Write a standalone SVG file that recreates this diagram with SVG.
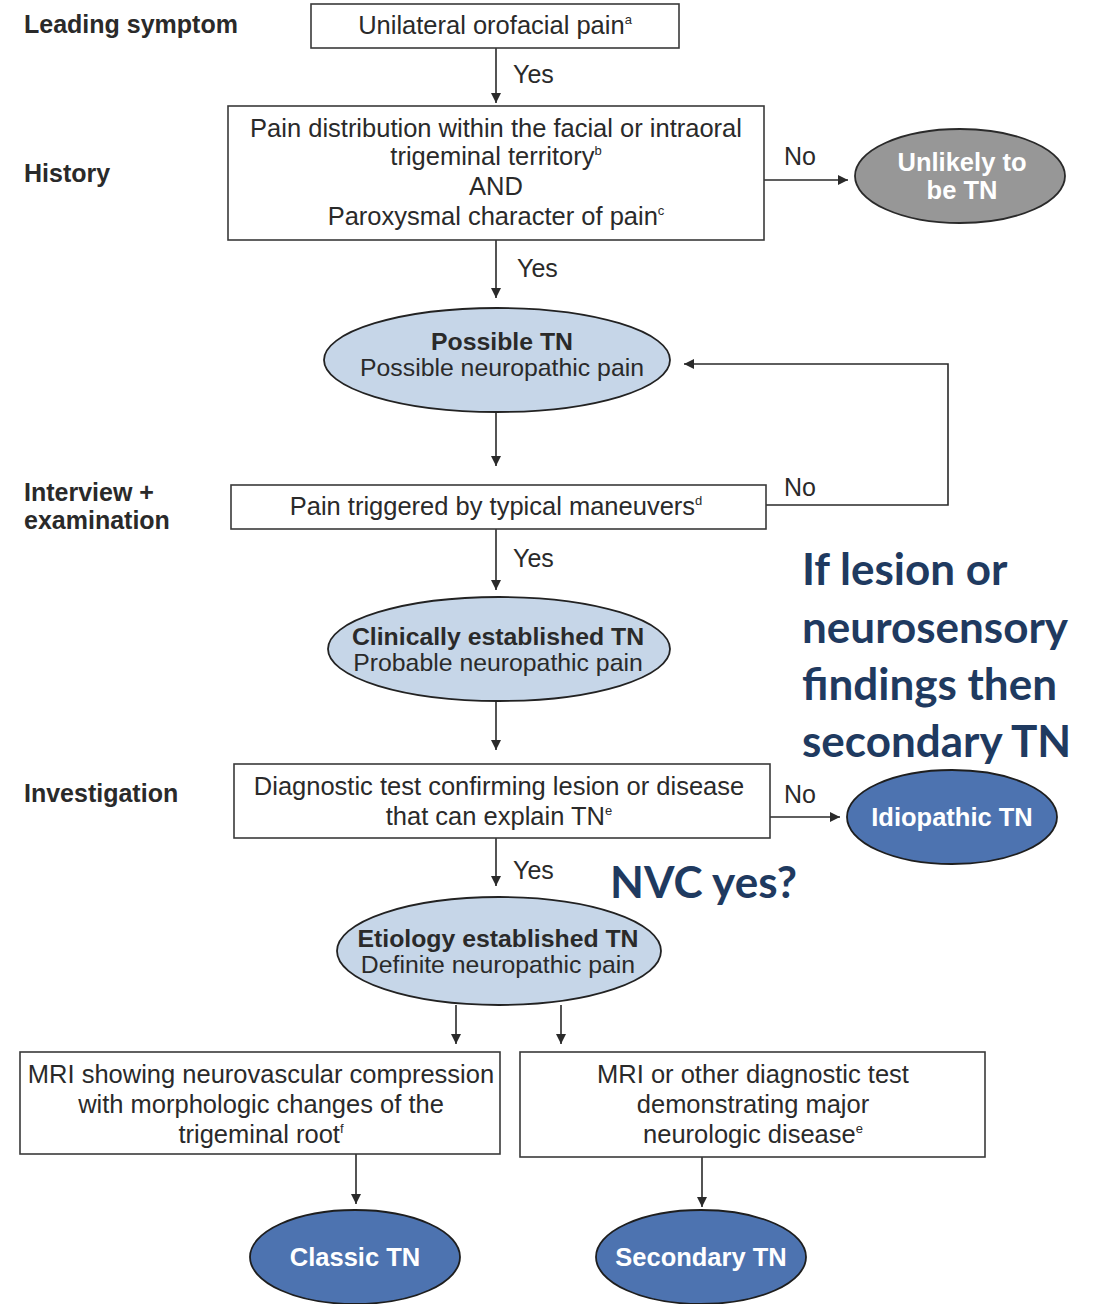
<svg xmlns="http://www.w3.org/2000/svg" width="1097" height="1304" viewBox="0 0 1097 1304">
  <defs>
    <marker id="arrow" viewBox="0 0 10 10" refX="10" refY="5" markerWidth="10" markerHeight="10" markerUnits="userSpaceOnUse" orient="auto">
      <path d="M0,0 L10,5 L0,10 z" fill="#2a2a2a"/>
    </marker>
  </defs>
  <style>
    .box { fill: #ffffff; stroke: #3a3a3a; stroke-width: 1.6; }
    .txt { font-family: "Liberation Sans", Arial, sans-serif; font-size: 25.5px; fill: #2a2a2a; text-anchor: middle; }
    .etxt { font-family: "Liberation Sans", Arial, sans-serif; font-size: 24.8px; fill: #2a2a2a; text-anchor: middle; }
    .bold { font-weight: bold; }
    .sup { font-size: 13px; }
    .side { font-family: "Liberation Sans", Arial, sans-serif; font-size: 25px; font-weight: bold; fill: #2a2a2a; }
    .lbl { font-family: "Liberation Sans", Arial, sans-serif; font-size: 25px; fill: #2a2a2a; }
    .light { fill: #c6d6e8; stroke: #222; stroke-width: 1.8; }
    .dark { fill: #4d73b0; stroke: #1e1e1e; stroke-width: 1.8; }
    .grey { fill: #979797; stroke: #2a2a2a; stroke-width: 1.8; }
    .wtxt { font-family: "Liberation Sans", Arial, sans-serif; font-size: 25.5px; font-weight: bold; fill: #ffffff; text-anchor: middle; }
    .conn { fill: none; stroke: #2a2a2a; stroke-width: 1.6; }
    .note { font-family: Lato, "Open Sans", sans-serif; font-weight: bold; font-size: 44px; fill: #1f3a60; }
  </style>

  <rect width="1097" height="1304" fill="#ffffff"/>

  <!-- stage labels on the left -->
  <g id="stage-labels">
    <text class="side" x="24" y="33">Leading symptom</text>
    <text class="side" x="24" y="182">History</text>
    <text class="side" x="24" y="501">Interview +</text>
    <text class="side" x="24" y="529">examination</text>
    <text class="side" x="24" y="802">Investigation</text>
  </g>

  <!-- connectors -->
  <g id="connectors">
    <line class="conn" x1="496" y1="48" x2="496" y2="103" marker-end="url(#arrow)"/>
    <line class="conn" x1="764" y1="180" x2="848" y2="180" marker-end="url(#arrow)"/>
    <line class="conn" x1="496" y1="240" x2="496" y2="298" marker-end="url(#arrow)"/>
    <line class="conn" x1="496" y1="412" x2="496" y2="466" marker-end="url(#arrow)"/>
    <polyline class="conn" points="766,505 948,505 948,364 684,364" marker-end="url(#arrow)"/>
    <line class="conn" x1="496" y1="529" x2="496" y2="590" marker-end="url(#arrow)"/>
    <line class="conn" x1="496" y1="701" x2="496" y2="750" marker-end="url(#arrow)"/>
    <line class="conn" x1="770" y1="817" x2="840" y2="817" marker-end="url(#arrow)"/>
    <line class="conn" x1="496" y1="838" x2="496" y2="886" marker-end="url(#arrow)"/>
    <line class="conn" x1="456" y1="1005" x2="456" y2="1044" marker-end="url(#arrow)"/>
    <line class="conn" x1="561" y1="1005" x2="561" y2="1044" marker-end="url(#arrow)"/>
    <line class="conn" x1="356" y1="1154" x2="356" y2="1204" marker-end="url(#arrow)"/>
    <line class="conn" x1="702" y1="1157" x2="702" y2="1207" marker-end="url(#arrow)"/>
    <text class="lbl" x="513" y="83">Yes</text>
    <text class="lbl" x="784" y="165">No</text>
    <text class="lbl" x="517" y="277">Yes</text>
    <text class="lbl" x="784" y="496">No</text>
    <text class="lbl" x="513" y="567">Yes</text>
    <text class="lbl" x="784" y="803">No</text>
    <text class="lbl" x="513" y="879">Yes</text>
  </g>

  <g id="n-unilateral">
    <rect class="box" x="311" y="4" width="368" height="44"/>
    <text class="txt" x="495" y="34">Unilateral orofacial pain<tspan class="sup" dy="-10">a</tspan></text>
  </g>

  <g id="n-distribution">
    <rect class="box" x="228" y="106" width="536" height="134"/>
    <text class="txt" x="496" y="137">Pain distribution within the facial or intraoral</text>
    <text class="txt" x="496" y="165">trigeminal territory<tspan class="sup" dy="-10">b</tspan></text>
    <text class="txt" x="496" y="195">AND</text>
    <text class="txt" x="496" y="225">Paroxysmal character of pain<tspan class="sup" dy="-10">c</tspan></text>
  </g>

  <g id="n-unlikely">
    <ellipse class="grey" cx="960" cy="176" rx="105" ry="47"/>
    <text class="wtxt" x="962" y="171">Unlikely to</text>
    <text class="wtxt" x="962" y="199">be TN</text>
  </g>

  <g id="n-possible">
    <ellipse class="light" cx="497" cy="360" rx="173" ry="52"/>
    <text class="etxt bold" x="502" y="350">Possible TN</text>
    <text class="etxt" x="502" y="376">Possible neuropathic pain</text>
  </g>

  <g id="n-triggered">
    <rect class="box" x="231" y="485" width="535" height="44"/>
    <text class="txt" x="496" y="515">Pain triggered by typical maneuvers<tspan class="sup" dy="-10">d</tspan></text>
  </g>

  <g id="n-clinical">
    <ellipse class="light" cx="499" cy="649" rx="171" ry="52"/>
    <text class="etxt bold" x="498" y="645">Clinically established TN</text>
    <text class="etxt" x="498" y="671">Probable neuropathic pain</text>
  </g>

  <g id="n-diagnostic">
    <rect class="box" x="234" y="764" width="536" height="74"/>
    <text class="txt" x="499" y="795">Diagnostic test confirming lesion or disease</text>
    <text class="txt" x="499" y="825">that can explain TN<tspan class="sup" dy="-10">e</tspan></text>
  </g>

  <g id="n-idiopathic">
    <ellipse class="dark" cx="952" cy="817" rx="105" ry="47"/>
    <text class="wtxt" x="952" y="826">Idiopathic TN</text>
  </g>

  <g id="n-etiology">
    <ellipse class="light" cx="499" cy="951" rx="162" ry="54"/>
    <text class="etxt bold" x="498" y="947">Etiology established TN</text>
    <text class="etxt" x="498" y="973">Definite neuropathic pain</text>
  </g>

  <g id="n-mri-nvc">
    <rect class="box" x="20" y="1052" width="480" height="102"/>
    <text class="txt" x="261" y="1083">MRI showing neurovascular compression</text>
    <text class="txt" x="261" y="1113">with morphologic changes of the</text>
    <text class="txt" x="261" y="1143">trigeminal root<tspan class="sup" dy="-10">f</tspan></text>
  </g>

  <g id="n-mri-other">
    <rect class="box" x="520" y="1052" width="465" height="105"/>
    <text class="txt" x="753" y="1083">MRI or other diagnostic test</text>
    <text class="txt" x="753" y="1113">demonstrating major</text>
    <text class="txt" x="753" y="1143">neurologic disease<tspan class="sup" dy="-10">e</tspan></text>
  </g>

  <g id="n-classic">
    <ellipse class="dark" cx="355" cy="1257" rx="105" ry="47"/>
    <text class="wtxt" x="355" y="1266">Classic TN</text>
  </g>

  <g id="n-secondary">
    <ellipse class="dark" cx="701" cy="1257" rx="105" ry="47"/>
    <text class="wtxt" x="701" y="1266">Secondary TN</text>
  </g>

  <!-- annotations -->
  <g id="notes">
    <text class="note" x="802" y="585">If lesion or</text>
    <text class="note" x="802" y="643">neurosensory</text>
    <text class="note" x="802" y="700">findings then</text>
    <text class="note" x="802" y="757">secondary TN</text>
    <text class="note" x="610" y="898">NVC yes?</text>
  </g>
</svg>
